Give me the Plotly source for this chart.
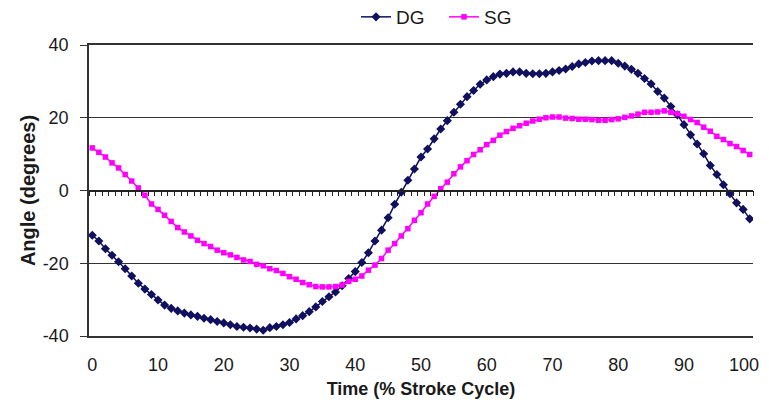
import plotly.graph_objects as go

time_pct = list(range(0, 101))

dg_angle = [
    -12.3, -13.9, -16.0, -17.8, -19.6, -21.5, -23.5, -25.5, -27.1, -28.6,
    -30.1, -31.5, -32.4, -33.1, -33.7, -34.2, -34.6, -35.1, -35.5, -36.0,
    -36.4, -36.9, -37.4, -37.6, -37.8, -38.1, -38.4, -37.7, -37.4, -36.9,
    -36.3, -35.3, -34.4, -33.3, -32.0, -30.5, -29.2, -27.9, -26.2, -24.2,
    -22.3, -19.8, -17.1, -13.9, -10.9, -7.5, -3.8, -0.5, 2.8, 5.9,
    9.2, 11.4, 14.2, 16.9, 19.2, 21.5, 23.7, 25.8, 27.5, 29.2,
    30.4, 31.3, 32.0, 32.2, 32.6, 32.6, 32.2, 32.1, 32.1, 32.2,
    32.6, 33.0, 33.4, 34.1, 34.8, 35.2, 35.6, 35.7, 35.7, 35.7,
    35.0, 34.2, 33.3, 32.2, 30.8, 29.3, 27.2, 25.4, 23.1, 20.8,
    18.1, 15.3, 12.8, 10.1, 6.9, 4.4, 1.6, -0.9, -3.4, -5.2,
    -7.8,
]

sg_angle = [
    11.7, 10.5, 9.2, 7.6, 6.2, 4.4, 2.6, 0.7, -1.3, -3.7,
    -5.2, -6.8, -8.5, -10.2, -11.4, -12.5, -13.7, -14.6, -15.4, -16.4,
    -17.1, -17.7, -18.4, -19.1, -19.5, -20.3, -20.7, -21.5, -22.0, -22.8,
    -23.7, -24.4, -25.3, -25.9, -26.4, -26.5, -26.5, -26.4, -26.0, -25.0,
    -24.4, -23.5, -21.9, -20.5, -18.7, -16.4, -14.6, -12.5, -10.5, -8.2,
    -6.1, -3.7, -1.6, 0.5, 2.3, 4.6, 6.5, 8.2, 9.9, 11.2,
    12.6, 13.8, 15.2, 16.2, 17.1, 17.8, 18.5, 19.1, 19.6, 20.0,
    20.2, 20.2, 19.9, 19.8, 19.6, 19.6, 19.5, 19.3, 19.3, 19.5,
    19.7, 20.1, 20.5, 21.0, 21.5, 21.5, 21.6, 21.9, 21.5, 21.1,
    20.4, 19.5, 18.7, 17.4, 16.3, 14.9, 14.0, 12.9, 12.1, 11.0,
    9.9,
]

x_ticks = list(range(0, 101, 10))
x_tick_labels = [str(v) for v in x_ticks]
y_ticks = [-40, -20, 0, 20, 40]
y_tick_labels = ["-40", "-20", "0", "20", "40"]

NAVY = "#10105e"
MAGENTA = "#ff00ff"
FONT = "Liberation Sans, Arial, sans-serif"

W, H = 753, 392

fig = go.Figure()
fig.add_trace(go.Scatter(
    x=time_pct, y=dg_angle, name="DG", mode="lines+markers",
    line=dict(color=NAVY, width=1.5),
    marker=dict(symbol="diamond", size=7, color=NAVY),
))
fig.add_trace(go.Scatter(
    x=time_pct, y=sg_angle, name="SG", mode="lines+markers",
    line=dict(color=MAGENTA, width=1.5),
    marker=dict(symbol="square", size=5.5, color=MAGENTA),
))
# zero-line axis with minor tick marks between categories
fig.add_trace(go.Scatter(x=[None], y=[None], xaxis="x2", showlegend=False, hoverinfo="skip"))

# the last x tick label sits at the very right edge; draw it as text kept inside the figure
fig.add_annotation(
    x=x_ticks[-1], xref="x", y=-29 / 291, yref="paper",
    text=x_tick_labels[-1], showarrow=False,
    xanchor="right", yanchor="middle", xshift=11,
    font=dict(family=FONT, size=18, color="#1a1a1a"),
)

fig.update_layout(
    width=W, height=H,
    margin=dict(l=81, r=8, t=37, b=64),
    paper_bgcolor="white", plot_bgcolor="white",
    font=dict(family=FONT, size=18, color="#1a1a1a"),
    showlegend=True,
    legend=dict(orientation="h", xref="container", yref="container",
                x=348 / W, xanchor="left", y=1 - 9 / H, yanchor="middle",
                font=dict(size=19, color="#1a1a1a"), itemwidth=30,
                entrywidth=43, entrywidthmode="pixels",
                bgcolor="rgba(0,0,0,0)", tracegroupgap=0),
    xaxis=dict(
        range=[-0.5, 100.5], tickmode="array", tickvals=x_ticks[:-1],
        ticktext=x_tick_labels[:-1],
        showgrid=False, zeroline=False, automargin=False,
        showline=True, mirror=True, linecolor="#333333", linewidth=1.5,
        ticks="", ticklabelstandoff=12,
        title=dict(text="<b>Time (% Stroke Cycle)</b>", font=dict(size=18), standoff=8),
        fixedrange=True,
    ),
    xaxis2=dict(
        overlaying="x", anchor="free", position=0.5, side="bottom",
        range=[-0.5, 100.5], tick0=0.5, dtick=1, tickmode="linear",
        ticks="outside", ticklen=5, tickwidth=1.2, tickcolor="#222222",
        showticklabels=False, showgrid=False, zeroline=False, automargin=False,
        showline=True, linecolor="#222222", linewidth=1.5,
    ),
    yaxis=dict(
        range=[-40, 40], tickmode="array", tickvals=y_ticks, ticktext=y_tick_labels,
        showgrid=True, gridcolor="#333333", gridwidth=1.3,
        zeroline=False, automargin=False,
        showline=True, linecolor="#333333", linewidth=1.5,
        ticks="outside", ticklen=7, tickcolor="#333333",
        ticklabelstandoff=8,
        title=dict(text="<b>Angle (degrees)</b>", font=dict(size=20), standoff=2),
        fixedrange=True,
    ),
)

fig.write_html("out.html")
